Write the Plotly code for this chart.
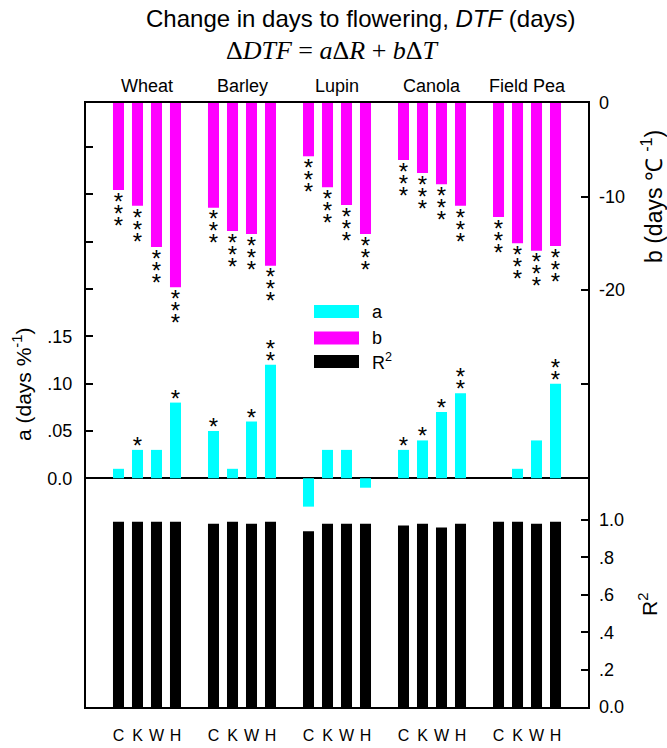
import plotly.graph_objects as go

# ---------------- data ----------------
crops = ["Wheat", "Barley", "Lupin", "Canola", "Field Pea"]
scenarios = ["C", "K", "W", "H"]

a_vals = [0.01, 0.03, 0.03, 0.08,
          0.05, 0.01, 0.06, 0.12,
          -0.03, 0.03, 0.03, -0.01,
          0.03, 0.04, 0.07, 0.09,
          0.00, 0.01, 0.04, 0.10]
b_vals = [-9.3, -11.0, -15.4, -19.7,
          -11.2, -13.7, -14.0, -17.4,
          -5.7, -9.0, -10.9, -14.0,
          -6.1, -7.5, -8.7, -11.0,
          -12.2, -15.0, -15.8, -15.3]
r2_vals = [0.99, 0.99, 0.99, 0.99,
           0.98, 0.99, 0.98, 0.99,
           0.94, 0.98, 0.98, 0.98,
           0.97, 0.98, 0.96, 0.98,
           0.99, 0.99, 0.98, 0.99]
a_stars = [0, 1, 0, 1,
           1, 0, 1, 2,
           0, 0, 0, 0,
           1, 1, 1, 2,
           0, 0, 0, 2]
b_stars = [3, 3, 3, 3,
           3, 3, 3, 3,
           3, 3, 3, 3,
           3, 3, 3, 3,
           3, 3, 3, 3]

a_tickvals = [0, 0.05, 0.10, 0.15]
a_ticktext = ["0.0", ".05", ".10", ".15"]
a_minor = [0.20, 0.25, 0.30, 0.35]
b_tickvals = [0, -10, -20]
b_ticktext = ["0", "-10", "-20"]
b_minor = [-30]
r_tickvals = [0, 0.2, 0.4, 0.6, 0.8, 1.0]
r_ticktext = ["0.0", ".2", ".4", ".6", ".8", "1.0"]

# ---------------- layout geometry ----------------
W, Hfig = 667, 748
ML, MR, MT, MB = 86, 79, 103, 41
PH = Hfig - MT - MB
PW = W - ML - MR

a_range = [-0.2418, 0.3967]
b_range = [-64.6, 0]
r_range = [0, 3.23]
x_range = [-1.71, 24.71]

px_a = PH / (a_range[1] - a_range[0])
px_b = PH / (b_range[1] - b_range[0])

FONT = "Liberation Sans, Arial, sans-serif"

xs = []
labels = []
for g, c in enumerate(crops):
    for j, s in enumerate(scenarios):
        xs.append(5 * g + j)
        labels.append(s)

fig = go.Figure()
fig.add_trace(go.Bar(x=xs, y=a_vals, yaxis="y", width=0.58, name="a",
                     marker=dict(color="#00FFFF", line=dict(width=0)), showlegend=False))
fig.add_trace(go.Bar(x=xs, y=b_vals, yaxis="y2", width=0.58, name="b",
                     marker=dict(color="#FF00FF", line=dict(width=0)), showlegend=False))
fig.add_trace(go.Bar(x=xs, y=r2_vals, yaxis="y3", width=0.58, name="R²",
                     marker=dict(color="#000000", line=dict(width=0)), showlegend=False))

# significance stars
STAR_SIZE = 24
glyph_corr = 6.0  # px: asterisk sits high in its text box
sa_x, sa_y = [], []
for i, n in enumerate(a_stars):
    for k in range(n):
        sa_x.append(xs[i])
        sa_y.append(a_vals[i] + (8 + 11.7 * k - glyph_corr) / px_a)
sb_x, sb_y = [], []
for i, n in enumerate(b_stars):
    for k in range(n):
        sb_x.append(xs[i])
        sb_y.append(b_vals[i] - (7.7 + 12 * k + glyph_corr) / px_b)

fig.add_trace(go.Scatter(x=sa_x, y=sa_y, yaxis="y", mode="text", text=["*"] * len(sa_x),
                         textposition="middle center",
                         textfont=dict(family=FONT, size=STAR_SIZE, color="black"),
                         showlegend=False, hoverinfo="skip"))
fig.add_trace(go.Scatter(x=sb_x, y=sb_y, yaxis="y2", mode="text", text=["*"] * len(sb_x),
                         textposition="middle center",
                         textfont=dict(family=FONT, size=STAR_SIZE, color="black"),
                         showlegend=False, hoverinfo="skip"))

tickfont = dict(family=FONT, size=18, color="black")
minor_common = dict(ticks="inside", ticklen=7, tickwidth=1.5, tickcolor="black", showgrid=False)

fig.update_layout(
    template="none",
    width=W, height=Hfig,
    margin=dict(l=ML, r=MR, t=MT, b=MB, autoexpand=False),
    paper_bgcolor="white", plot_bgcolor="white",
    barmode="overlay",
    font=dict(family=FONT, color="black"),
    xaxis=dict(range=x_range, tickvals=xs, ticktext=labels, ticks="",
               showgrid=False, zeroline=False, showline=True, mirror=True,
               linecolor="black", linewidth=2, automargin=False,
               tickfont=dict(family=FONT, size=16, color="black"),
               ticklabelstandoff=13),
    yaxis=dict(range=a_range, tickvals=a_tickvals, ticktext=a_ticktext, ticks="inside",
               ticklen=7, tickwidth=1.5, tickcolor="black", showgrid=False,
               zeroline=True, zerolinecolor="black", zerolinewidth=2,
               showline=True, mirror=True, linecolor="black", linewidth=2,
               tickfont=tickfont, side="left", ticklabelstandoff=8, automargin=False,
               minor=dict(tickvals=a_minor, **minor_common)),
    yaxis2=dict(range=b_range, tickvals=b_tickvals, ticktext=b_ticktext, ticks="inside",
                ticklen=7, tickwidth=1.5, tickcolor="black", showgrid=False, zeroline=False,
                showline=False, overlaying="y", side="right", tickfont=tickfont,
                ticklabelstandoff=10, automargin=False,
                minor=dict(tickvals=b_minor, **minor_common)),
    yaxis3=dict(range=r_range, tickvals=r_tickvals, ticktext=r_ticktext, ticks="inside",
                ticklen=7, tickwidth=1.5, tickcolor="black", showgrid=False, zeroline=False,
                showline=False, overlaying="y", side="right", tickfont=tickfont,
                ticklabelstandoff=10, automargin=False),
)

def py(ypx):
    return (Hfig - MB - ypx) / PH

def pxx(xpx):
    return (xpx - ML) / PW

ann = []
ann.append(dict(x=pxx(361), y=py(19), xref="paper", yref="paper", showarrow=False,
                text="Change in days to flowering, <i>DTF</i> (days)",
                font=dict(family=FONT, size=24), xanchor="center", yanchor="middle"))
ann.append(dict(x=pxx(332), y=py(50), xref="paper", yref="paper", showarrow=False,
                text="Δ<i>DTF</i> = <i>a</i>Δ<i>R</i> + <i>b</i>Δ<i>T</i>",
                font=dict(family="Liberation Serif, Times New Roman, serif", size=26),
                xanchor="center", yanchor="middle"))
for g, c in enumerate(crops):
    ann.append(dict(x=5 * g + 1.5, y=py(86), xref="x", yref="paper", showarrow=False,
                    text=c, font=dict(family=FONT, size=18), xanchor="center", yanchor="middle"))
ann.append(dict(x=pxx(22), y=py(385), xref="paper", yref="paper", showarrow=False,
                text="a (days %<sup>-1</sup>)", textangle=-90,
                font=dict(family=FONT, size=21), xanchor="center", yanchor="middle"))
ann.append(dict(x=pxx(652), y=py(197), xref="paper", yref="paper", showarrow=False,
                text="b (days ℃ <sup>-1</sup>)", textangle=-90,
                font=dict(family=FONT, size=23), xanchor="center", yanchor="middle"))
ann.append(dict(x=pxx(648), y=py(605), xref="paper", yref="paper", showarrow=False,
                text="R<sup>2</sup>", textangle=-90,
                font=dict(family=FONT, size=21), xanchor="center", yanchor="middle"))

# legend (swatches + labels)
shapes = []
leg = [("#00FFFF", "a", 311.5), ("#FF00FF", "b", 338), ("#000000", "R<sup>2</sup>", 361.5)]
for col, txt, yc in leg:
    shapes.append(dict(type="rect", xref="paper", yref="paper",
                       x0=pxx(314), x1=pxx(359), y0=py(yc - 6.5), y1=py(yc + 6.5),
                       fillcolor=col, line=dict(width=0)))
    ann.append(dict(x=pxx(370), y=py(yc), xref="paper", yref="paper", showarrow=False,
                    text=txt, font=dict(family=FONT, size=18), xanchor="left", yanchor="middle"))

fig.update_layout(annotations=ann, shapes=shapes)
fig.write_html("out.html")
